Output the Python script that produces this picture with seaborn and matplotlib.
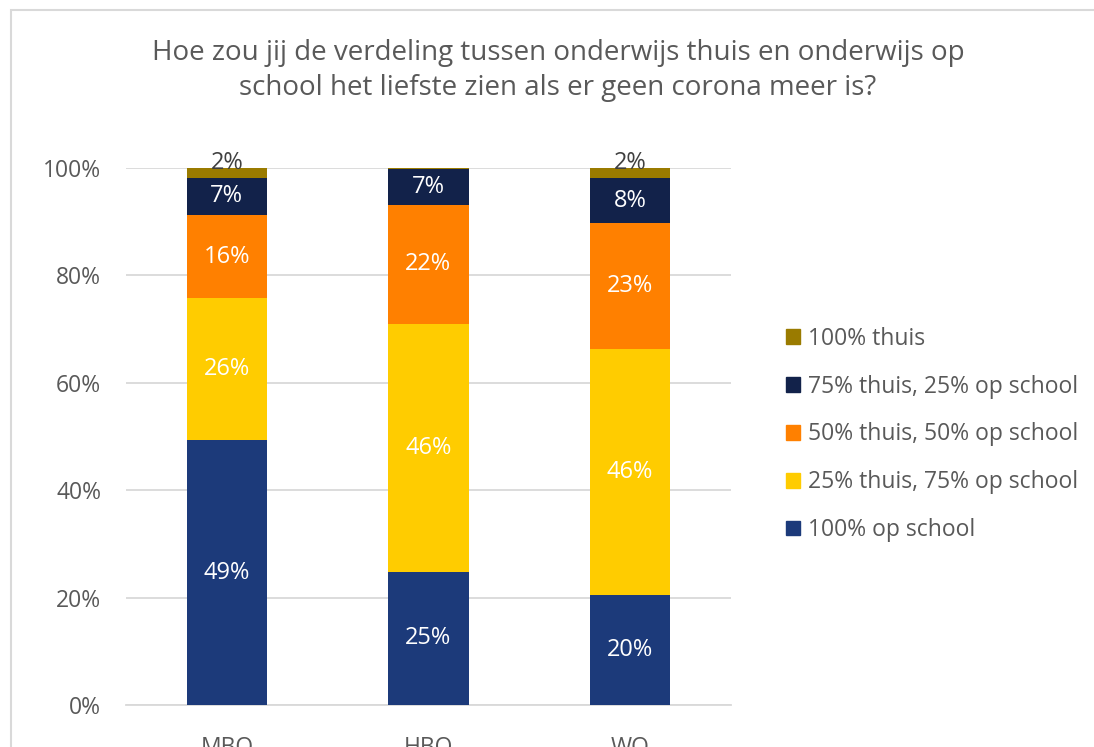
import matplotlib
matplotlib.use("Agg")
import matplotlib.pyplot as plt
import matplotlib.patches as mpatches
import seaborn as sns
import pandas as pd
import numpy as np

# ---- data ----
levels = ["MBO", "HBO", "WO"]
series_names = ["100% op school", "25% thuis, 75% op school", "50% thuis, 50% op school",
                "75% thuis, 25% op school", "100% thuis"]
op_school_100 = [49.3, 24.8, 20.5]
thuis25_school75 = [26.4, 46.2, 45.8]
thuis50_school50 = [15.6, 22.2, 23.4]
thuis75_school25 = [6.9, 6.6, 8.4]
thuis_100 = [1.8, 0.2, 1.9]
yticks = [0, 20, 40, 60, 80, 100]
title = "Hoe zou jij de verdeling tussen onderwijs thuis en onderwijs op\nschool het liefste zien als er geen corona meer is?"

colors = ["#1C3A7A", "#FFCC00", "#FF8000", "#12224A", "#9A7B00"]

values = [op_school_100, thuis25_school75, thuis50_school50, thuis75_school25, thuis_100]

sns.set_theme(style="white")
plt.rcParams["font.family"] = ["Open Sans", "DejaVu Sans"]

fig = plt.figure(figsize=(10.94, 7.47), dpi=100)
ax = fig.add_axes([0.1152, 0.0562, 0.5528, 0.7189])

# cumulative stacks drawn from top down
cum = np.cumsum(np.array(values), axis=0)
for i in range(len(series_names) - 1, -1, -1):
    df = pd.DataFrame({"level": levels, "value": cum[i]})
    sns.barplot(data=df, x="level", y="value", order=levels, color=colors[i],
                width=0.4, saturation=1, ax=ax, errorbar=None, zorder=3,
                edgecolor="none", linewidth=0)

# labels
for i, name in enumerate(series_names):
    for j in range(len(levels)):
        v = values[i][j]
        if v < 1:
            continue
        bottom = cum[i][j] - v
        if i == len(series_names) - 1:
            ax.text(j, cum[i][j] + 0.9, f"{round(v)}%", ha="center", va="center",
                    color="#404040", fontsize=17, zorder=5)
        else:
            ax.text(j, bottom + v / 2, f"{round(v)}%", ha="center", va="center",
                    color="white", fontsize=17, zorder=5)

ax.set_ylim(0, 100)
ax.set_xlim(-0.5, 2.5)
ax.set_yticks(yticks)
ax.set_yticklabels([f"{t}%" for t in yticks])
ax.yaxis.grid(True, color="#D9D9D9", linewidth=1.3, zorder=0)
ax.set_axisbelow(True)
for s in ["left", "right", "top"]:
    ax.spines[s].set_visible(False)
ax.spines["bottom"].set_color("#D9D9D9")
ax.spines["bottom"].set_linewidth(1.3)
ax.tick_params(axis="both", length=0, labelsize=16.5, colors="#595959", pad=18)
ax.tick_params(axis="x", pad=22)
ax.set_xlabel("")
ax.set_ylabel("")

fig.text(0.51, 0.906, title, ha="center", va="center", fontsize=20,
         color="#595959", linespacing=1.35)

handles = [mpatches.Patch(color=colors[i], label=series_names[i])
           for i in range(len(series_names) - 1, -1, -1)]
fig.legend(handles=handles, loc="center left", bbox_to_anchor=(0.708, 0.4184),
           frameon=False, fontsize=16.5, labelcolor="#595959", handlelength=0.62,
           handleheight=0.62, handletextpad=0.35, labelspacing=1.04, borderpad=0)

border = mpatches.Rectangle((0.0105, -0.1), 1.2, 0.9866 + 0.1, transform=fig.transFigure,
                            fill=False, edgecolor="#D9D9D9", linewidth=1.5)
fig.add_artist(border)

fig.savefig("out.png", dpi=100)
